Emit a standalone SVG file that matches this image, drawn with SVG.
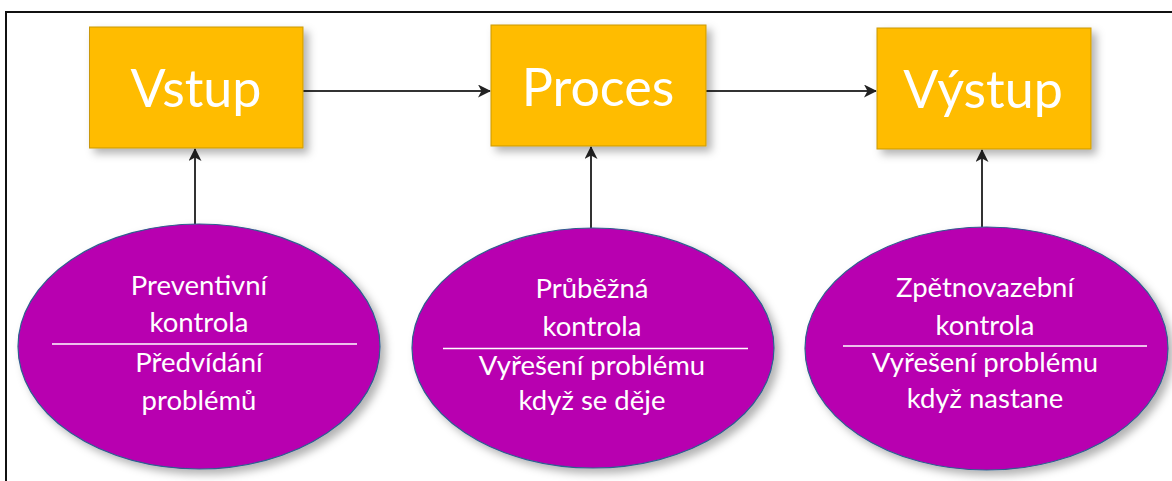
<svg xmlns="http://www.w3.org/2000/svg" width="1172" height="481" viewBox="0 0 1172 481">
<defs>
<style>
.box{fill:#FFBC00;stroke:#C9980C;stroke-width:1}
.ell{fill:#B800B0;stroke:#2F5F8F;stroke-width:1.2}
.bt{font-family:"Lato","Open Sans",sans-serif;font-size:52px;fill:#fff;text-anchor:middle}
.et{font-family:"Lato","Open Sans",sans-serif;font-size:27.5px;fill:#fff;text-anchor:middle}
.div{stroke:#fff;stroke-width:1.3}
.con{stroke:#333;stroke-width:2;fill:none;marker-end:url(#ah)}
</style>
<filter id="sh" x="-20%" y="-20%" width="150%" height="150%">
<feDropShadow dx="5" dy="5" stdDeviation="4" flood-color="#000" flood-opacity="0.3"/>
</filter>
<marker id="ah" viewBox="0 0 13 13" refX="12" refY="6.5" markerWidth="13" markerHeight="13" markerUnits="userSpaceOnUse" orient="auto">
<path d="M0,0 L13,6.5 L0,13 L3.5,6.5 Z" fill="#222"/>
</marker>
</defs>
<rect x="6" y="12" width="1200" height="500" fill="#fff" stroke="#111" stroke-width="2"/>
<g id="connectors">
<line class="con" x1="303" y1="91" x2="490" y2="91"/>
<line class="con" x1="706" y1="91" x2="876" y2="91"/>
<line class="con" x1="195" y1="224" x2="195" y2="149"/>
<line class="con" x1="591" y1="228" x2="591" y2="147"/>
<line class="con" x1="982" y1="227" x2="982" y2="150"/>
</g>
<g id="vstup">
<rect class="box" x="89.5" y="27" width="213.5" height="121" filter="url(#sh)"/>
<text class="bt" x="196" y="107">Vstup</text>
</g>
<g id="proces">
<rect class="box" x="491" y="25" width="215" height="121" filter="url(#sh)"/>
<text class="bt" x="598" y="106">Proces</text>
</g>
<g id="vystup">
<rect class="box" x="877" y="28" width="214" height="121" filter="url(#sh)"/>
<text class="bt" x="983" y="108">Výstup</text>
</g>
<g id="preventivni">
<ellipse class="ell" cx="199" cy="346.5" rx="181" ry="122.5" filter="url(#sh)"/>
<text class="et" x="199" y="295">Preventivní</text>
<text class="et" x="199" y="332">kontrola</text>
<line class="div" x1="52" y1="344" x2="357" y2="344"/>
<text class="et" x="199" y="372">Předvídání</text>
<text class="et" x="199" y="410">problémů</text>
</g>
<g id="prubezna">
<ellipse class="ell" cx="593" cy="348" rx="181" ry="120" filter="url(#sh)"/>
<text class="et" x="592" y="298">Průběžná</text>
<text class="et" x="592" y="336">kontrola</text>
<line class="div" x1="443" y1="348.5" x2="748" y2="348.5"/>
<text class="et" x="592" y="375">Vyřešení problému</text>
<text class="et" x="592" y="410">když se děje</text>
</g>
<g id="zpetnovazebni">
<ellipse class="ell" cx="986.5" cy="348.5" rx="181.5" ry="121.5" filter="url(#sh)"/>
<text class="et" x="985" y="297">Zpětnovazební</text>
<text class="et" x="985" y="335">kontrola</text>
<line class="div" x1="843" y1="346" x2="1147" y2="346"/>
<text class="et" x="985" y="372">Vyřešení problému</text>
<text class="et" x="985" y="408">když nastane</text>
</g>
</svg>
